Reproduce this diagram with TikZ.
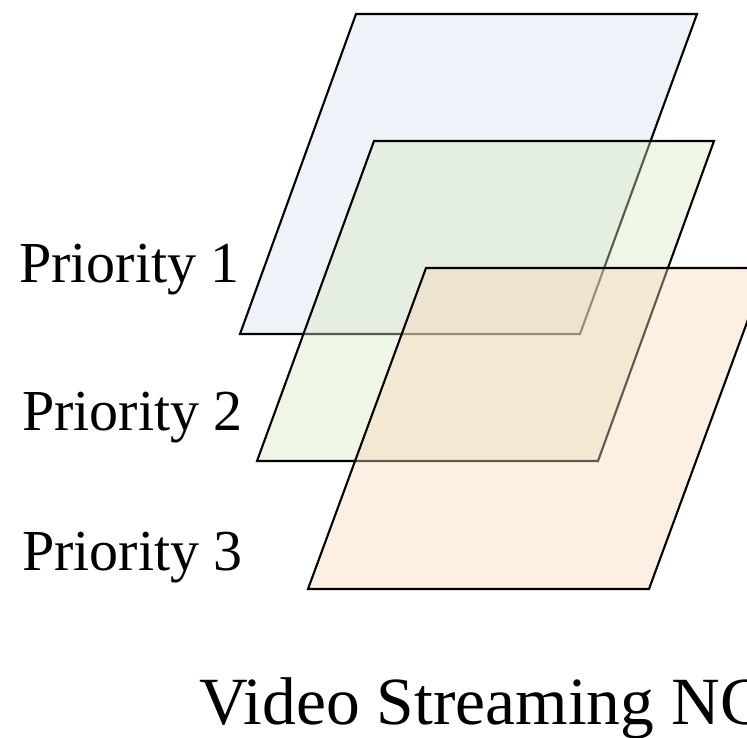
\documentclass[tikz,border=0pt]{standalone}
\usepackage{fontspec}
\setmainfont{Liberation Serif}
\definecolor{layerblue}{HTML}{D4E1F0}
\definecolor{layergreen}{HTML}{D7E8BE}
\definecolor{layerpeach}{HTML}{FAD7B6}
\tikzset{
  layer/.style={draw=black, line width=2.1pt, line join=miter, fill opacity=0.4},
  prio/.style={anchor=base west, inner sep=0pt, font=\fontsize{58}{64}\selectfont},
  caption/.style={anchor=base west, inner sep=0pt, font=\fontsize{67.5}{74}\selectfont}
}
\begin{document}
\begin{tikzpicture}[x=1pt, y=-1pt]
  \useasboundingbox (0,0) rectangle (747,738);
  \clip (0,0) rectangle (747,738);
  % three stacked priority layers, back to front
  \coordinate (p1a) at (356,14);  \coordinate (p1b) at (697,14);
  \coordinate (p1c) at (580,334); \coordinate (p1d) at (240,334);
  \coordinate (p2a) at (374,141); \coordinate (p2b) at (714,141);
  \coordinate (p2c) at (598,461); \coordinate (p2d) at (257,461);
  \coordinate (p3a) at (426,268); \coordinate (p3b) at (767,268);
  \coordinate (p3c) at (649,589); \coordinate (p3d) at (308,589);
  \draw[layer, fill=layerblue]  (p1a) -- (p1b) -- (p1c) -- (p1d) -- cycle;
  \draw[layer, fill=layergreen] (p2a) -- (p2b) -- (p2c) -- (p2d) -- cycle;
  \draw[layer, fill=layerpeach] (p3a) -- (p3b) -- (p3c) -- (p3d) -- cycle;
  % labels
  \node[prio] (l1) at (19,282) {Priority 1};
  \node[prio] (l2) at (22,430) {Priority 2};
  \node[prio] (l3) at (22,570) {Priority 3};
  \node[caption] (cap) at (199,724) {Video Streaming NC};
\end{tikzpicture}
\end{document}
